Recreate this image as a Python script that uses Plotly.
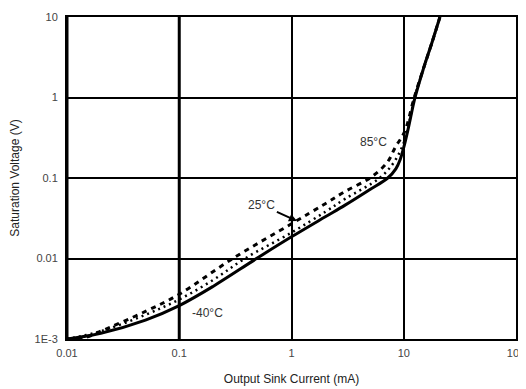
import plotly.graph_objects as go

# Data (log-log)
i_m40 = [0.01, 0.02, 0.05, 0.1, 0.2, 0.5, 1, 2, 3, 5, 7.2, 8.5, 9.3, 10.0, 11.0, 12.6, 15, 18, 21]
v_m40 = [0.00100, 0.00118, 0.00172, 0.0026, 0.0045, 0.0102, 0.0186, 0.033, 0.046, 0.072, 0.10, 0.13, 0.17, 0.24, 0.42, 1.0, 2.3, 5.0, 10.0]

i_25 = [0.01, 0.02, 0.05, 0.1, 0.2, 0.385, 1, 2, 3, 6.1, 8.0, 9.5, 10.5, 12.5, 15, 18, 21]
v_25 = [0.00100, 0.00125, 0.0020, 0.0031, 0.0054, 0.010, 0.021, 0.038, 0.055, 0.10, 0.15, 0.23, 0.34, 1.0, 2.3, 5.0, 10.0]

i_85 = [0.01, 0.015, 0.02, 0.05, 0.1, 0.3, 1, 2, 3, 5, 7.1, 8.4, 10.2, 12.4, 15, 18, 21]
v_85 = [0.00100, 0.00106, 0.00125, 0.0022, 0.0036, 0.010, 0.027, 0.048, 0.068, 0.10, 0.155, 0.24, 0.38, 1.0, 2.3, 5.0, 10.0]

x_ticks = [0.01, 0.1, 1, 10, 100]
x_ticktext = ["0.01", "0.1", "1", "10", "100"]
y_ticks = [0.001, 0.01, 0.1, 1, 10]
y_ticktext = ["1E-3", "0.01", "0.1", "1", "10"]

FONT = "Liberation Sans, Arial, sans-serif"

fig = go.Figure()
fig.add_trace(go.Scatter(x=i_m40, y=v_m40, mode="lines", line=dict(color="black", width=3, shape="spline"), name="-40°C"))
fig.add_trace(go.Scatter(x=i_25, y=v_25, mode="lines", line=dict(color="black", width=2.5, dash="2px,4px", shape="spline"), name="25°C"))
fig.add_trace(go.Scatter(x=i_85, y=v_85, mode="lines", line=dict(color="black", width=3, dash="5px,5px", shape="spline"), name="85°C"))

# thicker vertical line at 0.1 and left border
fig.add_shape(type="line", xref="x", yref="paper", x0=0.1, x1=0.1, y0=0, y1=1, line=dict(color="black", width=3))
fig.add_shape(type="line", xref="x", yref="paper", x0=0.01, x1=0.01, y0=0, y1=1, line=dict(color="black", width=3))

fig.add_annotation(x=-0.75, y=-2.68, xref="x", yref="y", text="-40°C", showarrow=False,
                   font=dict(family=FONT, size=12, color="#333"))
fig.add_annotation(x=0.048, y=-1.534, xref="x", yref="y", ax=-35, ay=-16, text="25°C", showarrow=True,
                   arrowhead=2, arrowsize=0.8, arrowwidth=2, arrowcolor="black",
                   font=dict(family=FONT, size=12, color="#333"))
fig.add_annotation(x=0.73, y=-0.553, xref="x", yref="y", text="85°C", showarrow=False,
                   font=dict(family=FONT, size=12, color="#333"))

fig.update_xaxes(type="log", range=[-2, 2], tickvals=x_ticks, ticktext=x_ticktext,
                 showgrid=True, gridcolor="black", gridwidth=2,
                 showline=True, linecolor="black", linewidth=2, mirror=True,
                 ticks="", zeroline=False, automargin=False, ticklabelstandoff=3,
                 tickfont=dict(family=FONT, size=11, color="#444"),
                 title=dict(text="Output Sink Current (mA)", font=dict(family=FONT, size=12, color="#222"), standoff=16))
fig.update_yaxes(type="log", range=[-3, 1], tickvals=y_ticks, ticktext=y_ticktext,
                 showgrid=True, gridcolor="black", gridwidth=2,
                 showline=True, linecolor="black", linewidth=2, mirror=True,
                 ticks="", zeroline=False, automargin=False, ticklabelstandoff=5,
                 tickfont=dict(family=FONT, size=11, color="#444"),
                 title=dict(text="Saturation Voltage (V)", font=dict(family=FONT, size=12, color="#222"), standoff=14))

# page body has an 8px margin, so the figure is sized to fit the 526x389 window
fig.update_layout(width=518, height=381, margin=dict(l=59, r=10, t=9, b=50),
                  paper_bgcolor="white", plot_bgcolor="white", showlegend=False)

fig.write_html("out.html")
